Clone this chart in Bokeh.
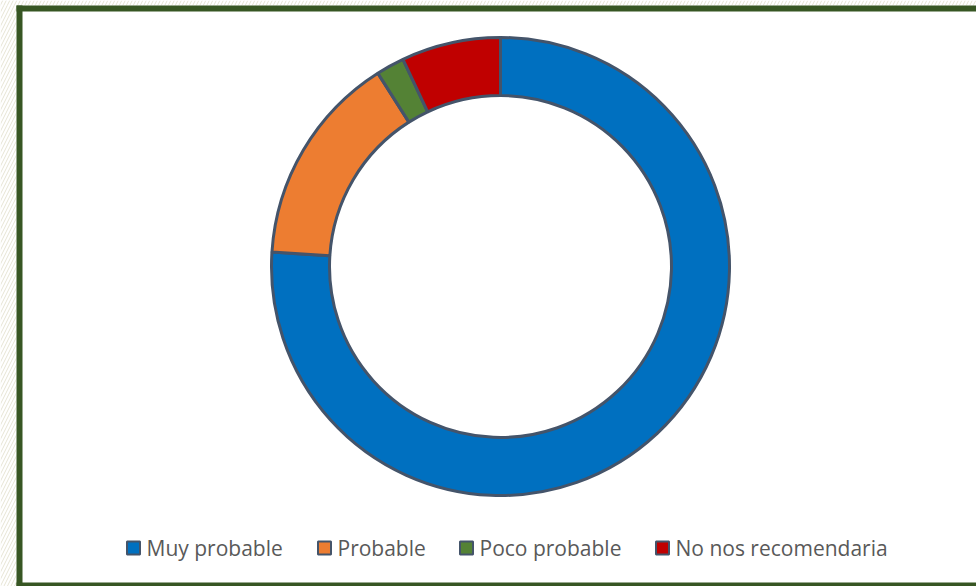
import math
from bokeh.plotting import figure
from bokeh.models import Range1d
from bokeh.core.properties import value
from bokeh.embed import file_html
from bokeh.resources import INLINE

# data
categories = ["Muy probable", "Probable", "Poco probable", "No nos recomendaria"]
shares = [76, 15, 2, 7]
colors = ["#0070C0", "#ED7D31", "#548235", "#C00000"]

W, H = 976, 586
p = figure(width=W, height=H, output_backend="svg", toolbar_location=None,
           x_range=Range1d(0, W), y_range=Range1d(0, H), min_border=0)
p.axis.visible = False
p.grid.visible = False
p.outline_line_color = None
p.background_fill_color = "white"
p.border_fill_color = "white"

# faint hatched backdrop outside frame
p.quad(left=[0, 0], right=[16, W], bottom=[0, H - 5], top=[H, H],
       fill_color="white", line_color=None, hatch_pattern="/",
       hatch_color="#e6e4d4", hatch_scale=7, hatch_weight=1)

# frame
p.line(x=[19, 19], y=[H - 5, 0], line_color="#375623", line_width=6)
p.line(x=[16, W], y=[H - 8, H - 8], line_color="#375623", line_width=6)
p.line(x=[16, W], y=[H - 585, H - 585], line_color="#375623", line_width=6)

# donut
cx, cy = 500, H - 266
r_out, r_in = 229, 171
total = sum(shares)
starts, ends = [], []
cum = 0
for s in shares:
    starts.append(math.pi / 2 - 2 * math.pi * cum / total)
    cum += s
    ends.append(math.pi / 2 - 2 * math.pi * cum / total)
p.annular_wedge(x=[cx] * len(shares), y=[cy] * len(shares), inner_radius=r_in,
                outer_radius=r_out, start_angle=starts, end_angle=ends,
                direction="clock", fill_color=colors, line_color="#44546A",
                line_width=3)

# legend
lx = [133, 324, 466, 662]
ly = H - 547.5
p.rect(x=lx, y=[ly] * 4, width=13, height=13, fill_color=colors,
       line_color="#44546A", line_width=2)
p.text(x=[x + 13 for x in lx], y=[ly] * 4, text=categories,
       text_font=value("Open Sans"), text_font_size="21px", text_color="#595959",
       text_baseline="middle", text_align="left")

open("out.html", "w").write(file_html(p, INLINE))
